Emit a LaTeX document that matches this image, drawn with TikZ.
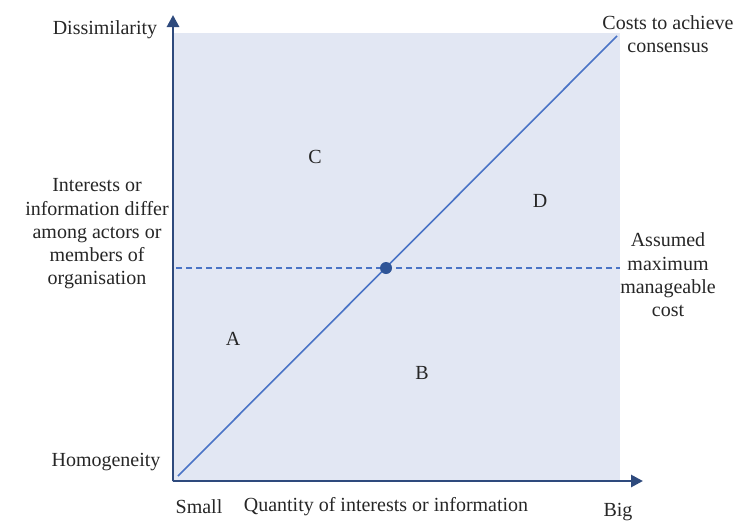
\documentclass[tikz,border=0pt]{standalone}
\usepackage{fontspec}
\setmainfont{Liberation Serif}
\usetikzlibrary{arrows.meta}
\definecolor{panel}{HTML}{E2E7F3}
\definecolor{axisblue}{HTML}{2E4A7D}
\definecolor{linebl}{HTML}{4A74C6}
\definecolor{dotblue}{HTML}{2F5597}
\begin{document}
\begin{tikzpicture}[x=1pt,y=-1pt,
  lbl/.style={font=\fontsize{20}{23.3}\selectfont,text=black!85,align=center,inner sep=0pt},
  axis/.style={draw=axisblue,line width=2.8pt,-{Triangle[length=12pt,width=12pt]}},
  curve/.style={draw=linebl,line width=1.6pt}]
\useasboundingbox (0,0) rectangle (741,522);
% shaded field
\fill[panel] (172,33) rectangle (620,482);
% axes
\coordinate (o) at (173,481);
\coordinate (ytip) at (173,15);
\coordinate (xtip) at (643,481);
\draw[axis] (o) -- (ytip);
\draw[axis] (o) -- (xtip);
% cost line and threshold
\coordinate (c0) at (178,476);
\coordinate (c1) at (617,36);
\coordinate (t0) at (176,268);
\coordinate (t1) at (620,268);
\draw[curve] (c0) -- (c1);
\draw[curve,dashed,dash pattern=on 6pt off 4pt] (t0) -- (t1);
\fill[dotblue] (386,268) circle (6);
\node (dot) at (386,268) {};
% region letters
\node[lbl] (C) at (315,157) {C};
\node[lbl] (D) at (540,201) {D};
\node[lbl] (A) at (233,339) {A};
\node[lbl] (B) at (422,373) {B};
% axis labels
\node[lbl] (dis) at (105,30) {Dissimilarity};
\node[lbl] (hom) at (106,462) {Homogeneity};
\node[lbl] (mid) at (97,234) {Interests or\\information differ\\among actors or\\members of\\organisation};
\node[lbl] (small) at (199,507) {Small};
\node[lbl] (qty) at (386,507) {Quantity of interests or information};
\node[lbl] (big) at (618,512) {Big};
\node[lbl] (cost) at (668,34) {Costs to achieve\\consensus};
\node[lbl] (max) at (668,275) {Assumed\\maximum\\manageable\\cost};
\end{tikzpicture}
\end{document}
